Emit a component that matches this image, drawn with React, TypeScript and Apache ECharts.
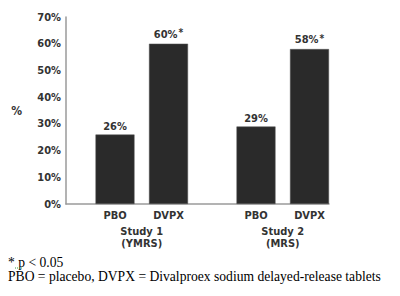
import React, { useEffect, useRef } from "react";
import * as echarts from "echarts";

// Response rates (%) by study and treatment arm
const armNames = ["PBO", "DVPX"];
const study1Values = [26, 60];
const study2Values = [29, 58];
const study1Significant = [false, true];
const study2Significant = [false, true];
const studyNames = ["Study 1\n(YMRS)", "Study 2\n(MRS)"];
const yTicks = [0, 10, 20, 30, 40, 50, 60, 70];

const footnotes = [
  "* p < 0.05",
  "PBO = placebo, DVPX = Divalproex sodium delayed-release tablets",
];

const FONT = '"Liberation Sans Narrow", "Arial Narrow", "DejaVu Sans Condensed", "Liberation Sans", sans-serif';
const INK = "#333333";
const BAR = "#2a2a2a";

const TOP = 17;
const PLOT_H = 187;

function barSeries(idx: number, values: number[], sig: boolean[]) {
  return {
    type: "bar",
    xAxisIndex: idx,
    yAxisIndex: idx,
    barWidth: 39,
    data: values,
    itemStyle: { color: BAR, borderColor: "#555", borderWidth: 0.5 },
    label: {
      show: true,
      position: "top",
      distance: 3,
      formatter: (p: any) =>
        `{v|${p.value}%}` + (sig[p.dataIndex] ? "{s|*}" : ""),
      rich: {
        v: { fontFamily: FONT, fontWeight: "bold", fontSize: 11, color: INK },
        s: { fontFamily: FONT, fontWeight: "bold", fontSize: 10, color: INK, verticalAlign: "top", padding: [0, 0, 3, 1] },
      },
    },
  };
}

function catAxis(idx: number, name: string) {
  return {
    type: "category",
    gridIndex: idx,
    data: armNames,
    boundaryGap: true,
    axisLine: { show: false },
    axisTick: { show: false },
    axisLabel: { fontFamily: FONT, fontWeight: "bold", fontSize: 11, color: INK, margin: 6 },
    name,
    nameLocation: "middle",
    nameGap: 21,
    nameTextStyle: { fontFamily: FONT, fontWeight: "bold", fontSize: 11, color: INK, lineHeight: 12, verticalAlign: "top" },
  };
}

function hiddenValueAxis(idx: number) {
  return {
    type: "value",
    gridIndex: idx,
    min: 0,
    max: 70,
    interval: 10,
    show: false,
  };
}

export default function App() {
  const ref = useRef<HTMLDivElement>(null);

  useEffect(() => {
    if (!ref.current) return;
    const chart = echarts.init(ref.current, undefined, { renderer: "svg" });
    chart.setOption({
      animation: false,
      backgroundColor: "#ffffff",
      grid: [
        { left: 66, top: TOP, width: 263, height: PLOT_H },
        { left: 88.25, top: TOP, width: 107, height: PLOT_H },
        { left: 229.25, top: TOP, width: 107, height: PLOT_H },
      ],
      xAxis: [
        {
          type: "category",
          gridIndex: 0,
          data: [""],
          axisLine: { show: true, lineStyle: { color: "#9a9a9a", width: 1.5 } },
          axisTick: { show: false },
          axisLabel: { show: false },
        },
        catAxis(1, studyNames[0]),
        catAxis(2, studyNames[1]),
      ],
      yAxis: [
        {
          type: "value",
          gridIndex: 0,
          min: 0,
          max: 70,
          interval: 10,
          axisLine: { show: true, lineStyle: { color: "#9a9a9a", width: 1.5 } },
          axisTick: { show: false },
          splitLine: { show: false },
          axisLabel: {
            fontFamily: FONT,
            fontWeight: "bold",
            fontSize: 11,
            color: INK,
            margin: 5,
            formatter: (v: number) => (yTicks.includes(v) ? `${v}%` : ""),
          },
          name: "%",
          nameLocation: "middle",
          nameRotate: 0,
          nameGap: 44,
          nameTextStyle: { fontFamily: FONT, fontWeight: "bold", fontSize: 12, color: INK },
        },
        hiddenValueAxis(1),
        hiddenValueAxis(2),
      ],
      series: [
        barSeries(1, study1Values, study1Significant),
        barSeries(2, study2Values, study2Significant),
      ],
      graphic: [
        ...footnotes.map((t, i) => ({
          type: "text",
          left: 8,
          top: 255 + i * 14,
          style: {
            text: t,
            fontFamily: '"Liberation Serif", "Times New Roman", serif',
            fontSize: 13.6,
            fill: "#000000",
          },
        })),
        // spell-check style squiggle under the "p"
        {
          type: "line",
          shape: { x1: 15, y1: 268, x2: 22, y2: 268 },
          style: { stroke: "#3a9a3a", lineWidth: 1, lineDash: [1, 1] },
        },
      ],
    });
    return () => chart.dispose();
  }, []);

  return (
    <div
      ref={ref}
      style={{ position: "fixed", left: 0, top: 0, width: 400, height: 296 }}
    />
  );
}
